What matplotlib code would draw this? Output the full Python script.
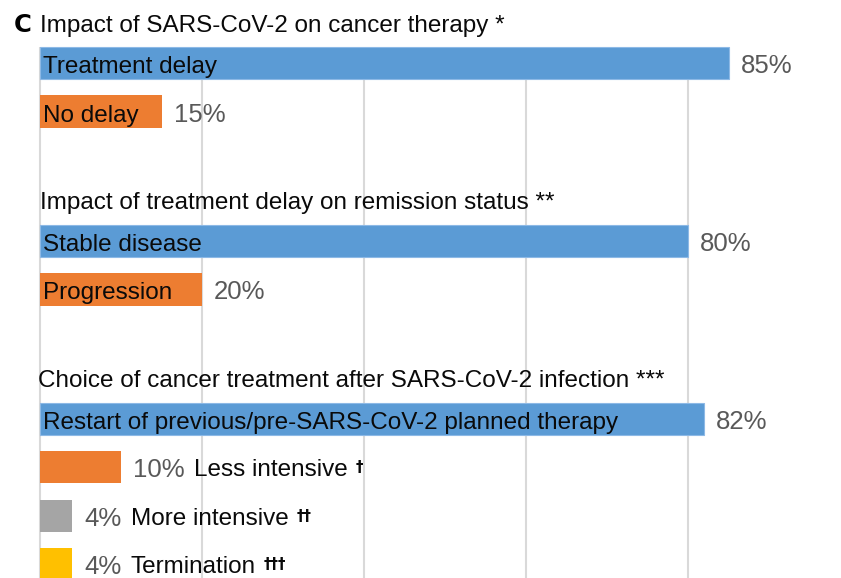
import matplotlib
matplotlib.use("Agg")
import matplotlib.pyplot as plt

plt.rcParams['font.family'] = ['Liberation Sans', 'DejaVu Sans']

# ---- data ----
group_titles = ["Impact of SARS-CoV-2 on cancer therapy *",
                "Impact of treatment delay on remission status **",
                "Choice of cancer treatment after SARS-CoV-2 infection ***"]
g1_labels = ["Treatment delay", "No delay"]
g1_values = [85, 15]
g2_labels = ["Stable disease", "Progression"]
g2_values = [80, 20]
g3_labels = ["Restart of previous/pre-SARS-CoV-2 planned therapy",
             "Less intensive", "More intensive", "Termination"]
g3_values = [82, 10, 4, 4]
g3_marks = ["", "\u2020", "\u2020\u2020", "\u2020\u2020\u2020"]
inside = [True, False, False, False]   # label inside the bar or after value

colors = ["#5B9BD5", "#ED7D31", "#A5A5A5", "#FFC000"]
grid_ticks = [0, 20, 40, 60, 80, 100]

# ---- layout ----
W, H = 841, 578
px_per_pct = 8.1
left_px = 40
slot_px = 48.5
first_center_px = 63
group_gap = 2.67
bar_h = 0.66
title_base = 31.5 / slot_px      # title baseline above first bar centre
label_base = 10.0 / slot_px      # label baseline below bar centre
fs = 17.5
fs_val = 18.5

fig = plt.figure(figsize=(W / 100, H / 100), dpi=100)
ax = fig.add_axes([0, 0, 1, 1])
ax.set_xlim(-left_px / px_per_pct, (W - left_px) / px_per_pct)
ax.set_ylim((H - first_center_px) / slot_px, -first_center_px / slot_px)
ax.axis('off')

groups = [(g1_labels, g1_values, ["", ""], [True, True]),
          (g2_labels, g2_values, ["", ""], [True, True]),
          (g3_labels, g3_values, g3_marks, inside)]

# gridlines from the top of the first bar downward
ax.vlines(grid_ticks, -bar_h / 2, 20, colors="#D9D9D9", linewidth=1.5, zorder=0)

ax.text(-3.3, -title_base, "C", fontsize=fs, fontweight='bold', ha='left',
        va='baseline', color='black', family=['DejaVu Sans'])

pos = 0.0
for gi, (labels, values, marks, ins) in enumerate(groups):
    ax.text(0 if gi < 2 else -0.2, pos - title_base, group_titles[gi], fontsize=fs,
            ha='left', va='baseline', color='#0a0a0a')
    for i, (lab, val, mk, inn) in enumerate(zip(labels, values, marks, ins)):
        y = pos + i
        ax.barh(y, val, height=bar_h, color=colors[i],
                edgecolor='#8DB9E6' if i == 0 else 'none',
                linewidth=0.8, zorder=2)
        vtxt = ax.text(val + 12 / px_per_pct, y + label_base, f"{val}%",
                       fontsize=fs_val, ha='left', va='baseline',
                       color='#595959', zorder=3)
        if inn:
            ax.text(0.35, y + label_base, lab, fontsize=fs, ha='left',
                    va='baseline', color='#0a0a0a', zorder=3)
        else:
            ntxt = ax.annotate(lab, xy=(1, 0.5), xycoords=vtxt, xytext=(9, 0),
                               textcoords='offset pixels', fontsize=fs,
                               ha='left', va='center', color='#0a0a0a')
            ax.annotate(mk, xy=(1, 0.62), xycoords=ntxt, xytext=(8, 0),
                        textcoords='offset pixels', fontsize=fs * 0.62,
                        ha='left', va='center', color='#0a0a0a',
                        fontweight='bold', family=['DejaVu Sans'])
    pos += len(labels) - 1 + group_gap

fig.savefig("out.png", dpi=100)
